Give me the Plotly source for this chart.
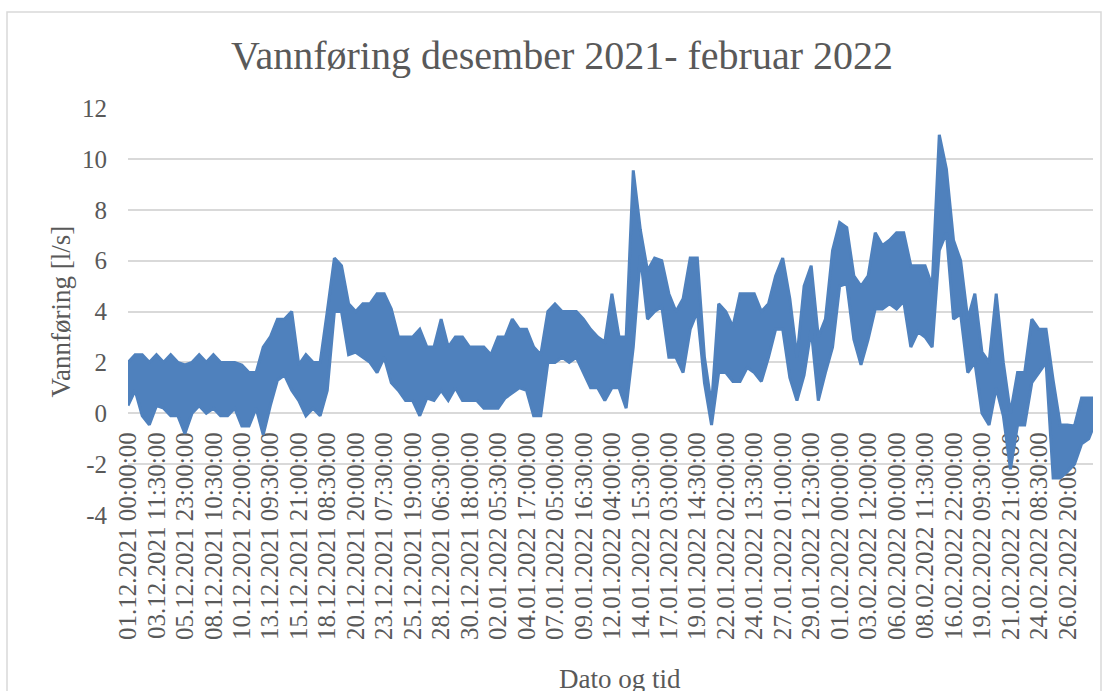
import plotly.graph_objects as go

# Tick labels along the category axis (one label every 119 half-hour readings)
tick_labels = [
    "01.12.2021 00:00:00", "03.12.2021 11:30:00", "05.12.2021 23:00:00", "08.12.2021 10:30:00",
    "10.12.2021 22:00:00", "13.12.2021 09:30:00", "15.12.2021 21:00:00", "18.12.2021 08:30:00",
    "20.12.2021 20:00:00", "23.12.2021 07:30:00", "25.12.2021 19:00:00", "28.12.2021 06:30:00",
    "30.12.2021 18:00:00", "02.01.2022 05:30:00", "04.01.2022 17:00:00", "07.01.2022 05:00:00",
    "09.01.2022 16:30:00", "12.01.2022 04:00:00", "14.01.2022 15:30:00", "17.01.2022 03:00:00",
    "19.01.2022 14:30:00", "22.01.2022 02:00:00", "24.01.2022 13:30:00", "27.01.2022 01:00:00",
    "29.01.2022 12:30:00", "01.02.2022 00:00:00", "03.02.2022 12:00:00", "06.02.2022 00:00:00",
    "08.02.2022 11:30:00", "16.02.2022 22:00:00", "19.02.2022 09:30:00", "21.02.2022 21:00:00",
    "24.02.2022 08:30:00", "26.02.2022 20:00:00",
]
y_ticks = [-4, -2, 0, 2, 4, 6, 8, 10, 12]

# The half-hourly flow [l/s] is so noisy that it draws as a band:
# upper and lower edge of that band, 4 readings per label interval
hi_dec = [
    2.0, 2.3, 2.3, 2.0,   2.3, 2.0, 2.3, 2.0,   1.9, 2.0, 2.3, 2.0,   2.3, 2.0, 2.0, 2.0,
    1.9, 1.6, 1.6, 2.6,   3.0, 3.7, 3.7, 4.0,   1.9, 2.3, 2.0, 2.0,   4.0, 6.1, 5.8, 4.3,
    4.0, 4.3, 4.3, 4.7,   4.7, 4.1, 3.0, 3.0,   3.0, 3.3, 2.6, 2.6,   3.7, 2.6, 3.0, 3.0,
    2.6, 2.6,
]
lo_dec = [
    0.3, 0.9, -0.1, -0.45, 0.3, 0.2, -0.1, -0.1, -0.8, 0.0, 0.3, 0.0,  0.2, -0.1, -0.1, 0.2,
    -0.5, -0.5, 0.2, -0.85, 0.3, 1.3, 1.5, 0.9,  0.5, -0.1, 0.2, -0.1,  0.9, 4.0, 4.0, 2.3,
    2.4, 2.2, 2.0, 1.6,   2.2, 1.2, 0.9, 0.5,   0.5, -0.1, 0.6, 0.5,  0.9, 0.5, 1.0, 0.5,
    0.5, 0.5,
]
hi_jan = [
    2.6, 2.3,
    3.0, 3.0, 3.7, 3.3,   3.3, 2.6, 2.3, 4.0,   4.3, 4.0, 4.0, 4.0,   3.7, 3.3, 3.0, 2.8,
    4.7, 3.0, 3.0, 9.55,  7.2, 5.6, 6.1, 6.0,   4.7, 4.0, 4.5, 6.1,   6.1, 2.2, 0.3, 4.3,
    4.0, 3.4, 4.7, 4.7,   4.7, 4.0, 4.3, 5.4,   6.1, 4.5, 2.2, 5.0,   5.8, 3.0, 3.7, 6.4,
]
lo_jan = [
    0.2, 0.2,
    0.2, 0.6, 0.8, 1.0,   0.9, -0.1, -0.1, 2.0, 2.0, 2.2, 2.0, 2.2,   1.6, 1.0, 1.0, 0.5,
    1.0, 1.0, 0.2, 2.6,   6.2, 3.7, 4.0, 4.2,   2.2, 2.2, 1.6, 3.3,   4.0, 1.2, -0.46, 1.6,
    1.6, 1.25, 1.25, 1.8, 1.6, 1.25, 2.2, 3.3,  3.3, 1.4, 0.5, 1.5,   3.3, 0.5, 1.6, 2.6,
]
hi_feb = [
    7.5, 7.3, 5.4, 5.0,   5.4, 7.1, 6.6, 6.8,   7.1, 7.1, 5.8, 5.8,   5.8, 5.0, 10.95, 9.6,
    6.8, 6.0, 3.7, 4.7,   2.4, 2.0, 4.7, 2.0,   0.0, 1.6, 1.6, 3.7,   3.3, 3.3, 1.3, -0.46,
    -0.46, -0.5, 0.6, 0.6,
    0.6,
]
lo_feb = [
    5.0, 5.1, 2.9, 1.9,   2.9, 4.1, 4.1, 4.3,   4.1, 4.4, 2.6, 3.2,   3.0, 2.6, 6.4, 7.1,
    3.7, 3.9, 1.6, 2.0,   0.0, -0.46, 1.0, -0.1, -2.2, -0.46, -0.46, 1.2, 1.6, 2.0, -2.55, -2.55,
    -2.3, -2.0, -1.2, -1.0,
    -0.3,
]

STEPS_PER_LABEL = 4
FONT = "Liberation Serif"
TEXT_COLOR = "#595959"
GRID_COLOR = "#d9d9d9"
LINE_COLOR = "#4f81bd"

flow_hi = hi_dec + hi_jan + hi_feb
flow_lo = lo_dec + lo_jan + lo_feb
x_pos = [i / STEPS_PER_LABEL for i in range(len(flow_hi))]

fig = go.Figure()
fig.add_trace(go.Scatter(
    x=x_pos,
    y=flow_lo,
    mode='lines',
    line=dict(color=LINE_COLOR, width=3),
    showlegend=False
))
fig.add_trace(go.Scatter(
    x=x_pos,
    y=flow_hi,
    mode='lines',
    line=dict(color=LINE_COLOR, width=3),
    fill='tonexty',
    fillcolor=LINE_COLOR,
    showlegend=False
))

# plot area in pixels: left 128, right 1093, top 108, bottom 515
plot_l, plot_r, plot_t, plot_b = 128, 1093, 108, 515
pw, ph = plot_r - plot_l, plot_b - plot_t

fig.update_layout(
    width=1109,
    height=691,
    autosize=False,
    margin=dict(l=plot_l, r=1109 - plot_r, t=plot_t, b=691 - plot_b),
    paper_bgcolor='white',
    plot_bgcolor='white',
    font=dict(family=FONT, color=TEXT_COLOR),
    title=dict(
        text="Vannføring desember 2021- februar 2022",
        font=dict(family=FONT, size=40, color=TEXT_COLOR),
        x=562 / 1109, xanchor='center',
        y=1 - 55 / 691, yanchor='middle',
    ),
    xaxis=dict(
        range=[0, 33.9],
        tickvals=list(range(len(tick_labels))),
        ticktext=tick_labels,
        tickangle=-90,
        tickfont=dict(family=FONT, size=25, color=TEXT_COLOR),
        showgrid=False,
        zeroline=False,
        showline=False,
        ticks='',
        anchor='free',
        position=0.25,
        layer='below traces',
        ticklabelstandoff=13,
    ),
    yaxis=dict(
        range=[-4, 12],
        tickvals=y_ticks,
        ticktext=[str(v) for v in y_ticks],
        tickfont=dict(family=FONT, size=25, color=TEXT_COLOR),
        gridcolor=GRID_COLOR,
        gridwidth=1.5,
        zeroline=False,
        showline=False,
        ticks='',
        ticklabelstandoff=20,
    ),
    annotations=[
        dict(text="Vannføring [l/s]", textangle=-90,
             x=(60 - plot_l) / pw, y=0.5, xref='paper', yref='paper',
             xanchor='center', yanchor='middle', showarrow=False,
             font=dict(family=FONT, size=27, color=TEXT_COLOR)),
        dict(text="Dato og tid",
             x=(620 - plot_l) / pw, y=(plot_b - 679) / ph, xref='paper', yref='paper',
             xanchor='center', yanchor='middle', showarrow=False,
             font=dict(family=FONT, size=27, color=TEXT_COLOR)),
    ],
    shapes=[
        dict(type='rect', xref='paper', yref='paper',
             x0=(7 - plot_l) / pw, x1=(1101 - plot_l) / pw,
             y0=(plot_b - 720) / ph, y1=(plot_b - 12) / ph,
             line=dict(color=GRID_COLOR, width=1.5), fillcolor='rgba(0,0,0,0)',
             layer='below'),
    ],
)

# the page's default body margin would push the chart 8px right and down
fig.write_html("out.html", config={'displayModeBar': False},
               post_script="document.body.style.margin = '0px';")
